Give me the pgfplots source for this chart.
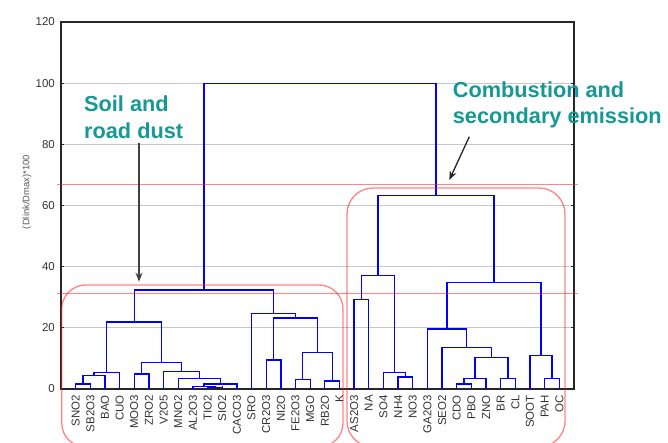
\documentclass[border=0pt]{standalone}
\usepackage{fontspec}
\setmainfont{Liberation Sans}
\usepackage{pgfplots}
\pgfplotsset{compat=1.18}
\usetikzlibrary{arrows.meta}

\definecolor{labelteal}{RGB}{22,152,148}
\definecolor{gridgray}{RGB}{200,200,200}
\definecolor{dendroblue}{RGB}{0,0,255}
\definecolor{cutred}{RGB}{255,30,30}

\tikzset{branch/.style={dendroblue, solid, line width=1.3bp, mark=none}}

\begin{document}
\begin{tikzpicture}
\begin{axis}[
  at={(61bp,54bp)}, anchor=south west,
  width=513bp, height=367bp, scale only axis,
  xmin=0, xmax=35, ymin=0, ymax=120,
  ytick={0,20,...,120},
  xtick={1,...,34},
  xticklabels={SNO2,SB2O3,BAO,CUO,MOO3,ZRO2,V2O5,MNO2,AL2O3,TIO2,SIO2,CACO3,SRO,CR2O3,NI2O,FE2O3,MGO,RB2O,K,AS2O3,NA,SO4,NH4,NO3,GA2O3,SEO2,CDO,PBO,ZNO,BR,CL,SOOT,PAH,OC},
  ymajorgrids, grid style={gridgray, line width=1bp},
  axis line style={black!85, line width=1.2bp},
  tick style={black!85, line width=1bp},
  major tick length=3bp,
  tick align=inside,
  xtick pos=bottom,
  /pgf/number format/assume math mode=true,
  ticklabel style={font=\fontsize{11.5}{13}\selectfont, text=black!80},
  x tick label style={rotate=90, anchor=east, inner sep=0pt},
  xticklabel shift=6bp,
  y tick label style={inner sep=0pt},
  yticklabel shift=6bp,
]
% left branch: soil and road dust elements
\addplot[branch] coordinates {(1,0) (1,1.6) (2,1.6) (2,0)};
\addplot[branch] coordinates {(1.5,1.6) (1.5,4.3) (3,4.3) (3,0)};
\addplot[branch] coordinates {(2.25,4.3) (2.25,5.3) (4,5.3) (4,0)};
\addplot[branch] coordinates {(5,0) (5,4.9) (6,4.9) (6,0)};
\addplot[branch] coordinates {(10,0) (10,0.4) (11,0.4) (11,0)};
\addplot[branch] coordinates {(9,0) (9,0.8) (10.5,0.8) (10.5,0.4)};
\addplot[branch] coordinates {(9.75,0.8) (9.75,1.6) (12,1.6) (12,0)};
\addplot[branch] coordinates {(8,0) (8,3.5) (10.875,3.5) (10.875,1.6)};
\addplot[branch] coordinates {(7,0) (7,5.8) (9.4375,5.8) (9.4375,3.5)};
\addplot[branch] coordinates {(5.5,4.9) (5.5,8.7) (8.21875,8.7) (8.21875,5.8)};
\addplot[branch] coordinates {(3.125,5.3) (3.125,21.9) (6.859375,21.9) (6.859375,8.7)};
\addplot[branch] coordinates {(14,0) (14,9.5) (15,9.5) (15,0)};
\addplot[branch] coordinates {(16,0) (16,3.0) (17,3.0) (17,0)};
\addplot[branch] coordinates {(18,0) (18,2.6) (19,2.6) (19,0)};
\addplot[branch] coordinates {(16.5,3.0) (16.5,12) (18.5,12) (18.5,2.6)};
\addplot[branch] coordinates {(14.5,9.5) (14.5,23.2) (17.5,23.2) (17.5,12)};
\addplot[branch] coordinates {(13,0) (13,24.7) (16,24.7) (16,23.2)};
\addplot[branch] coordinates {(4.9921875,21.9) (4.9921875,32.4) (14.5,32.4) (14.5,24.7)};
% right branch: combustion and secondary species
\addplot[branch] coordinates {(20,0) (20,29.2) (21,29.2) (21,0)};
\addplot[branch] coordinates {(23,0) (23,3.9) (24,3.9) (24,0)};
\addplot[branch] coordinates {(22,0) (22,5.3) (23.5,5.3) (23.5,3.9)};
\addplot[branch] coordinates {(20.5,29.2) (20.5,37) (22.75,37) (22.75,5.3)};
\addplot[branch] coordinates {(27,0) (27,1.6) (28,1.6) (28,0)};
\addplot[branch] coordinates {(27.5,1.6) (27.5,3.5) (29,3.5) (29,0)};
\addplot[branch] coordinates {(30,0) (30,3.5) (31,3.5) (31,0)};
\addplot[branch] coordinates {(28.25,3.5) (28.25,10.3) (30.5,10.3) (30.5,3.5)};
\addplot[branch] coordinates {(26,0) (26,13.6) (29.375,13.6) (29.375,10.3)};
\addplot[branch] coordinates {(25,0) (25,19.6) (27.6875,19.6) (27.6875,13.6)};
\addplot[branch] coordinates {(33,0) (33,3.5) (34,3.5) (34,0)};
\addplot[branch] coordinates {(32,0) (32,10.9) (33.5,10.9) (33.5,3.5)};
\addplot[branch] coordinates {(26.34375,19.6) (26.34375,34.9) (32.75,34.9) (32.75,10.9)};
\addplot[branch] coordinates {(21.625,37) (21.625,63.2) (29.546875,63.2) (29.546875,34.9)};
% root
\addplot[branch] coordinates {(9.74609,32.4) (9.74609,100) (25.5859,100) (25.5859,63.2)};
\end{axis}

% y axis title
\node[rotate=90, font=\fontsize{9.5}{11}\selectfont, text=black!65] at (27bp,251bp) {(Dlink/Dmax)*100};

% cut levels and cluster frames
\begin{scope}[cutred, opacity=0.55, line width=1.3bp]
  \draw (57bp,258.7bp) -- (578bp,258.7bp);
  \draw (57bp,149.7bp) -- (578bp,149.7bp);
  \draw[rounded corners=24bp] (61.7bp,-4bp) rectangle (343bp,158bp);
  \draw[rounded corners=26bp] (347bp,-4bp) rectangle (565bp,255bp);
\end{scope}

% cluster annotations
\begin{scope}[font=\bfseries\fontsize{21.8}{26}\selectfont, text=labelteal]
  \node[anchor=base west, inner sep=0pt] at (84bp,331.3bp) {Soil and};
  \node[anchor=base west, inner sep=0pt] at (84bp,304bp) {road dust};
  \node[anchor=base west, inner sep=0pt] at (452.7bp,345.7bp) {Combustion and};
  \node[anchor=base west, inner sep=0pt] at (452.7bp,319.7bp) {secondary emission};
\end{scope}
\draw[-{Stealth[length=9bp,width=7bp]}, black!75, line width=1.3bp] (139bp,300bp) -- (139bp,161.3bp);
\draw[-{Stealth[length=9bp,width=7bp]}, black!85, line width=1.3bp] (469.3bp,306.3bp) -- (449.3bp,263bp);

\pgfresetboundingbox
\path (0bp,0bp) rectangle (668bp,443bp);
\end{tikzpicture}
\end{document}
